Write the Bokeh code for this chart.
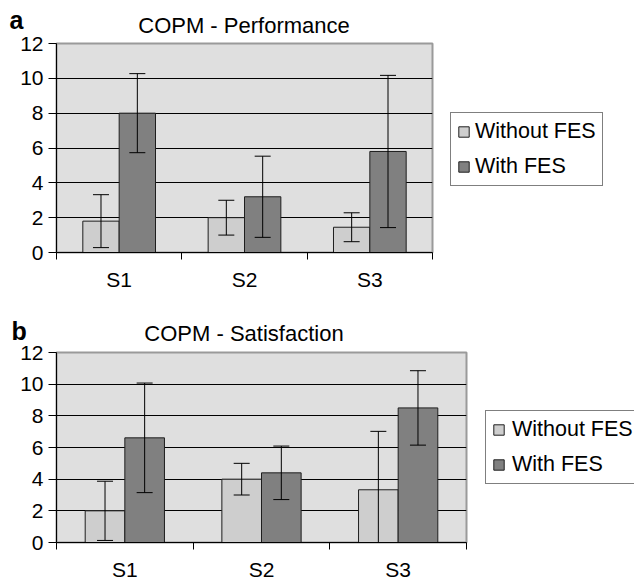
from bokeh.plotting import figure
from bokeh.models import (ColumnDataSource, Range1d, FixedTicker,
                          Whisker, TeeHead, Legend, LegendItem, Label)
from bokeh.transform import dodge
from bokeh.layouts import column, row
from bokeh.embed import file_html
from bokeh.resources import INLINE

# ---------------- data ----------------
subjects = ["S1", "S2", "S3"]
series_names = ["Without FES", "With FES"]
y_ticks = [0, 2, 4, 6, 8, 10, 12]

perf_without = [1.8, 2.0, 1.45]
perf_without_err = [1.52, 1.0, 0.83]
perf_with = [8.0, 3.2, 5.8]
perf_with_err = [2.27, 2.33, 4.37]

sat_without = [2.0, 4.0, 3.33]
sat_without_err = [1.87, 1.0, 3.69]
sat_with = [6.61, 4.4, 8.5]
sat_with_err = [3.46, 1.69, 2.35]

FONT = "Liberation Sans"
LIGHT = "#cecece"
DARK = "#808080"
BG = "#dfdfdf"
EDGE = "#1e1e1e"
FILLS = [LIGHT, DARK]


def blank_fig(width, height):
    f = figure(width=width, height=height, toolbar_location=None, output_backend="svg",
               x_axis_location=None, y_axis_location=None, min_border=0,
               x_range=Range1d(0, 1), y_range=Range1d(0, 1), frame_align=False)
    f.outline_line_color = None
    f.background_fill_color = "white"
    f.border_fill_color = "white"
    f.grid.visible = False
    return f


def header(width, height, title, letter, title_x, title_y, letter_x, letter_y):
    h = blank_fig(width, height)
    h.add_layout(Label(x=title_x, y=title_y, x_units="screen", y_units="screen",
                       text=title, text_font=FONT, text_font_size="22px",
                       text_align="center", text_baseline="alphabetic", text_color="black"))
    h.add_layout(Label(x=letter_x, y=letter_y, x_units="screen", y_units="screen",
                       text=letter, text_font=FONT, text_font_size="25px", text_font_style="bold",
                       text_align="left", text_baseline="alphabetic", text_color="black"))
    return h


def legend_fig(width, height, lx, ly, standoff, series):
    lf = blank_fig(width, height)
    rs = []
    for c, vals in zip(FILLS, series):
        r = lf.vbar(x=[i + 0.5 for i in range(len(subjects))], top=vals, width=0.29,
                    fill_color=c, line_color=EDGE, line_width=1)
        r.visible = False          # only used for the legend swatch
        rs.append(r)
    leg = Legend(items=[LegendItem(label=s, renderers=[r]) for s, r in zip(series_names, rs)],
                 location=(lx, ly), margin=0, padding=6, spacing=10,
                 glyph_width=13, glyph_height=13, label_height=22,
                 label_standoff=standoff,
                 label_text_font=FONT, label_text_font_size="21.5px",
                 label_text_color="black",
                 inactive_fill_alpha=0,
                 border_line_color="black", border_line_width=1,
                 background_fill_color="white", background_fill_alpha=1)
    lf.add_layout(leg)
    return lf


def chart(without, without_err, with_, with_err, width, height, b_left, b_right, b_top, b_bottom):
    n = len(subjects)
    centres = [i + 0.5 for i in range(n)]          # category slot centres
    src = ColumnDataSource(dict(
        pos=centres,
        without=without,
        with_=with_,
        w_lo=[m - e for m, e in zip(without, without_err)],
        w_hi=[m + e for m, e in zip(without, without_err)],
        f_lo=[m - e for m, e in zip(with_, with_err)],
        f_hi=[m + e for m, e in zip(with_, with_err)],
    ))
    p = figure(width=width, height=height,
               x_range=Range1d(0, n), y_range=Range1d(y_ticks[0], y_ticks[-1]),
               toolbar_location=None, output_backend="svg", frame_align=False,
               min_border_left=b_left, min_border_right=b_right,
               min_border_top=b_top, min_border_bottom=b_bottom)
    p.background_fill_color = BG
    p.border_fill_color = "white"
    p.outline_line_color = "#9a9a9a"
    p.outline_line_width = 2

    bw = 0.29
    p.vbar(x=dodge("pos", -bw / 2), top="without", width=bw,
           source=src, fill_color=LIGHT, line_color=EDGE, line_width=1)
    p.vbar(x=dodge("pos", bw / 2), top="with_", width=bw,
           source=src, fill_color=DARK, line_color=EDGE, line_width=1)

    for off, lo, hi in ((-bw / 2, "w_lo", "w_hi"), (bw / 2, "f_lo", "f_hi")):
        wk = Whisker(source=src, base=dodge("pos", off), lower=lo, upper=hi,
                     line_color="black", line_width=1, level="overlay",
                     upper_head=TeeHead(size=16, line_color="black", line_width=1),
                     lower_head=TeeHead(size=16, line_color="black", line_width=1))
        p.add_layout(wk)

    # y axis
    ya = p.yaxis[0]
    ya.ticker = FixedTicker(ticks=y_ticks)
    ya.major_tick_out = 8
    ya.major_tick_in = 0
    ya.minor_tick_line_color = None
    ya.axis_line_color = "black"
    ya.major_tick_line_color = "black"
    ya.major_label_standoff = 5
    ya.major_label_text_font = FONT
    ya.major_label_text_font_size = "21px"
    ya.major_label_text_color = "black"
    p.ygrid.ticker = FixedTicker(ticks=y_ticks)
    p.ygrid.grid_line_color = "black"
    p.ygrid.grid_line_width = 1
    p.xgrid.visible = False

    # x axis: labels at category centres, ticks at category boundaries
    xa = p.xaxis[0]
    xa.ticker = FixedTicker(ticks=centres, minor_ticks=list(range(n + 1)))
    xa.major_label_overrides = {c: s for c, s in zip(centres, subjects)}
    xa.major_tick_line_color = None
    xa.major_tick_out = 7
    xa.major_tick_in = 0
    xa.minor_tick_out = 7
    xa.minor_tick_in = 0
    xa.minor_tick_line_color = "black"
    xa.axis_line_color = "black"
    xa.major_label_standoff = 8
    xa.major_label_text_font = FONT
    xa.major_label_text_font_size = "21px"
    xa.major_label_text_color = "black"
    return p


W = 634
# panel a
ha = header(W, 33, "COPM - Performance", "a", 243.5, 8.5, 9, 13.5)
fa = chart(perf_without, perf_without_err, perf_with, perf_with_err,
           width=434, height=260, b_left=56, b_right=2, b_top=10, b_bottom=41)
la = legend_fig(W - 434, 260, 16, 107, 5, [perf_without, perf_with])
# panel b
hb = header(W, 51, "COPM - Satisfaction", "b", 243.5, 11.5, 11, 13.5)
fb = chart(sat_without, sat_without_err, sat_with, sat_with_err,
           width=468, height=239, b_left=56, b_right=2, b_top=8, b_bottom=41)
lb = legend_fig(W - 468, 239, 17, 99, 7, [sat_without, sat_with])

layout = column(ha, row(fa, la, spacing=0), hb, row(fb, lb, spacing=0), spacing=0)
open("out.html", "w").write(file_html(layout, INLINE))
